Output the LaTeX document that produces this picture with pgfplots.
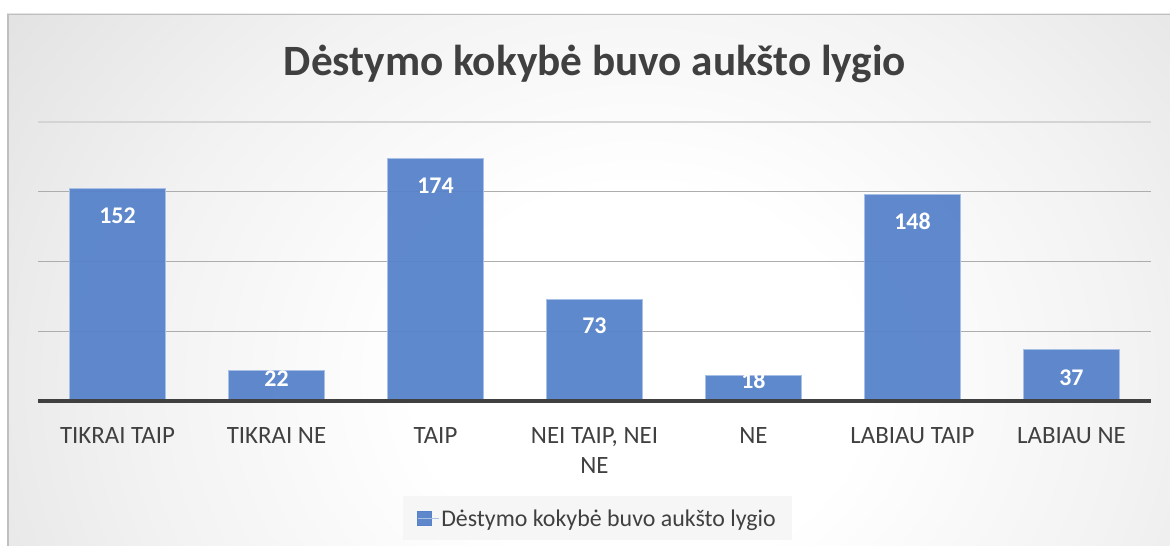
\documentclass[border=0pt]{standalone}
\usepackage{pgfplots}
\pgfplotsset{compat=1.18}
\usepackage{fontspec}
\setmainfont{Carlito}
\definecolor{txt}{HTML}{404040}
\definecolor{barblue}{HTML}{5682CA}
\definecolor{baredge}{HTML}{A8BFE6}
\pgfdeclareradialshading{bgshade}{\pgfpoint{0bp}{0bp}}{color(0bp)=(white); color(8bp)=(white); color(18bp)=(white!95!black); color(27bp)=(white!89!black); color(37bp)=(white!84!black); color(48bp)=(white!80!black); color(62bp)=(white!76!black); color(80bp)=(white!74!black)}
\begin{document}
\begin{tikzpicture}[x=1bp,y=1bp]
\path[use as bounding box] (-38,-145) rectangle (1132,401);
\begin{scope}
\clip (-31,-145) rectangle (1132,387);
\shade[shading=bgshade] (-98,-579) rectangle (1302,621);
\end{scope}
\draw[line width=1.5bp, color=white!75!black] (-30.25,-145) -- (-30.25,386.25) -- (1132,386.25);
\node[anchor=base, font=\bfseries\fontsize{43.4}{50}\selectfont, text=txt] at (557,325) {Dėstymo kokybė buvo aukšto lygio};
\begin{axis}[
  scale only axis, width=1113bp, height=279bp,
  xmin=-0.5, xmax=6.5, ymin=0, ymax=200,
  axis line style={draw=none},
  xtick={0,1,2,3,4,5,6},
  xticklabels={TIKRAI TAIP, TIKRAI NE, TAIP, {NEI TAIP, NEI\\NE}, NE, LABIAU TAIP, LABIAU NE},
  xticklabel style={font=\fontsize{25}{30}\selectfont, text=txt, align=center, inner sep=0pt, anchor=north, yshift=-26bp},
  major tick style={draw=none},
  ytick={50,100,150}, yticklabels={},
  extra y ticks={200}, extra y tick labels={},
  extra y tick style={grid style={color=white!83!black, line width=1.3bp}},
  ymajorgrids, grid style={color=white!68!black, line width=1.3bp},
  clip=false,
  legend style={at={(axis description cs:0.5027,-0.421)}, anchor=center, draw=none, fill=white!96.5!black, font=\fontsize{24}{28}\selectfont, text=txt, inner xsep=14bp, inner ysep=11bp},
  legend cell align=left,
  legend image code/.code={\fill[barblue] (0bp,-6.75bp) rectangle (14bp,6.75bp); \path (0bp,0bp) -- (21bp,0bp);},
]
\addplot[ybar, bar width=0.6, fill=barblue, draw=baredge, line width=1bp, fill opacity=0.94] coordinates {(0,152) (1,22) (2,174) (3,73) (4,18) (5,148) (6,37)};
\addlegendentry{Dėstymo kokybė buvo aukšto lygio}
\addplot[forget plot, only marks, mark=none, nodes near coords, point meta=explicit symbolic,
  nodes near coords style={font=\bfseries\fontsize{24}{24}\selectfont, text=white, anchor=center}]
  coordinates {(0,132.6)[152] (1,16)[22] (2,154.6)[174] (3,53.6)[73] (4,15)[18] (5,128.6)[148] (6,16.5)[37]};
\draw[line width=3.2bp, color=txt] (axis cs:-0.5,0) -- (axis cs:6.5,0);
\end{axis}
\end{tikzpicture}
\end{document}
